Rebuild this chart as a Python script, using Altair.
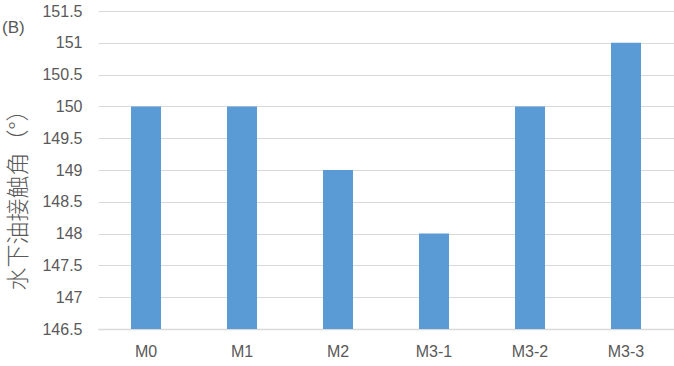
import altair as alt
import pandas as pd

categories = ["M0", "M1", "M2", "M3-1", "M3-2", "M3-3"]
values = [150, 150, 149, 148, 150, 151]
y_min, y_max = 146.5, 151.5
y_ticks = [146.5, 147, 147.5, 148, 148.5, 149, 149.5, 150, 150.5, 151, 151.5]

df = pd.DataFrame({"cat": categories, "val": values})

FONT = "Liberation Sans"
GREY = "#595959"

bars = alt.Chart(df).mark_bar(color="#5B9BD5", size=30).encode(
    x=alt.X("cat:N", sort=categories, title=None,
            scale=alt.Scale(paddingInner=0, paddingOuter=0),
            axis=alt.Axis(labelAngle=0, ticks=False, domain=True, domainColor="#D9D9D9",
                          domainWidth=1.5, labelFont=FONT, labelFontSize=16,
                          labelColor=GREY, labelPadding=14, grid=False)),
    y=alt.Y("val:Q", title="水下油接触角（°）",
            scale=alt.Scale(domain=[y_min, y_max], zero=False, nice=False),
            axis=alt.Axis(values=y_ticks, format="~g", ticks=False, domain=False, grid=True,
                          gridColor="#D9D9D9", gridWidth=1.2,
                          labelFont=FONT, labelFontSize=16, labelColor=GREY,
                          labelPadding=16, titleFont="Noto Sans CJK SC",
                          titleFontSize=23, titleFontWeight=300, titleColor=GREY,
                          titleAngle=-90, titleX=-80, titleY=183, titleAlign="center",
                          titleBaseline="middle")),
    y2=alt.datum(y_min),
)

label_df = pd.DataFrame({"t": ["(B)"]})
label = alt.Chart(label_df).mark_text(
    align="left", baseline="middle", font=FONT, fontSize=17, color=GREY
).encode(x=alt.value(-96), y=alt.value(17), text="t:N")

chart = alt.layer(bars, label).properties(
    width=576, height=318,
    autosize=alt.AutoSizeParams(type="none"),
    padding={"left": 98, "top": 11, "right": 0, "bottom": 37},
).configure_view(stroke=None)

chart.save("out.html", embed_options={"renderer": "svg", "actions": False})
